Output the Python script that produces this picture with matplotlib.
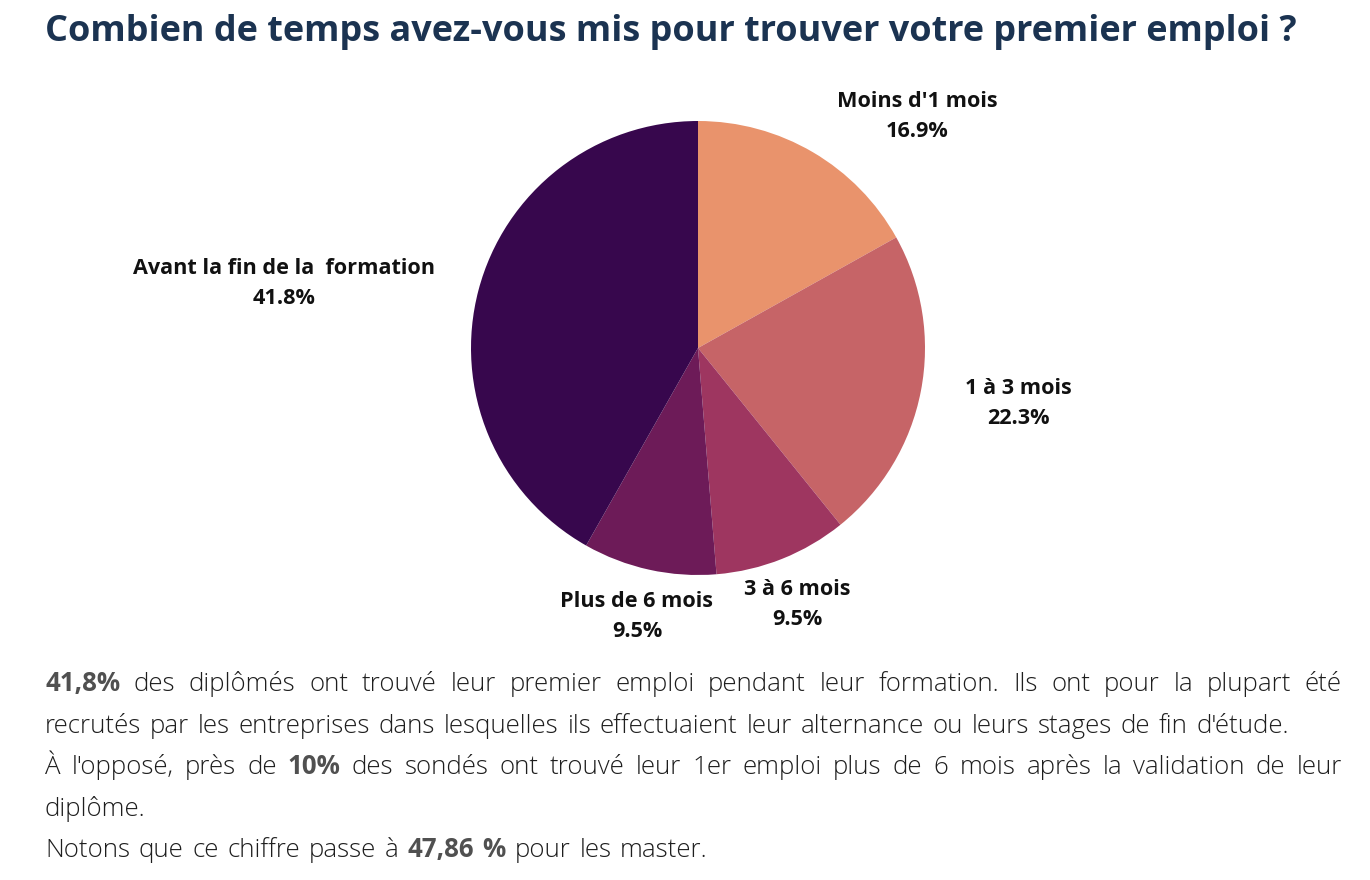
import matplotlib
matplotlib.use("Agg")
import matplotlib.pyplot as plt

W, H = 1370, 880

# ---------------- data ----------------
categories = ["Moins d'1 mois", "1 à 3 mois", "3 à 6 mois", "Plus de 6 mois",
              "Avant la fin de la  formation"]
values = [16.9, 22.3, 9.5, 9.5, 41.8]
colors = ["#E9936C", "#C66467", "#9E3660", "#6D1B58", "#37074D"]
title = "Combien de temps avez-vous mis pour trouver votre premier emploi ?"

# paragraph: list of lines, each line a list of (text, bold) runs, plus justify flag
paragraph = [
    ([("41,8%", True), (" des diplômés ont trouvé leur premier emploi pendant leur formation. Ils ont pour la plupart été", False)], True),
    ([("recrutés par les entreprises dans lesquelles ils effectuaient leur alternance ou leurs stages de fin d'étude.", False)], False),
    ([("À l'opposé, près de ", False), ("10%", True), (" des sondés ont trouvé leur 1er emploi plus de 6 mois après la validation de leur", False)], True),
    ([("diplôme.", False)], False),
    ([("Notons que ce chiffre passe à ", False), ("47,86 %", True), (" pour les master.", False)], False),
]

FONT = "Open Sans"

fig = plt.figure(figsize=(W / 100, H / 100), dpi=100)
fig.patch.set_facecolor("white")


def fx(x):
    return x / W


def fy(y):
    return 1 - y / H


# ---------------- pie ----------------
cx, cy, R = 698, 348, 227
ax = fig.add_axes([0, 0, 1, 1])
ax.pie(values, colors=colors, startangle=90, counterclock=False,
       radius=1, wedgeprops=dict(linewidth=0))
ax.set_xlim((0 - cx) / R, (W - cx) / R)
ax.set_ylim((cy - H) / R, (cy - 0) / R)
ax.set_aspect("auto")
ax.axis("off")

# label placement (pixel centres of label blocks, first-line baselines)
LBL = 15.6
label_pos = [(917, 107), (1018, 394), (797, 595), (637, 607), (284, 274)]
for cat, val, (lx, ly) in zip(categories, values, label_pos):
    fig.text(fx(lx), fy(ly), cat, ha="center", va="baseline", fontsize=LBL,
             fontweight="bold", family=FONT, color="#111111")
    fig.text(fx(lx), fy(ly + 30), f"{val:.1f}%", ha="center", va="baseline",
             fontsize=LBL, fontweight="bold", family=FONT, color="#111111")

# ---------------- title ----------------
fig.text(fx(45), fy(41), title, ha="left", va="baseline", fontsize=25.9,
         fontweight="bold", family=FONT, color="#1B3351")

# ---------------- paragraph ----------------
renderer = fig.canvas.get_renderer()
BODY_SIZE = 18.6
REG_WEIGHT = "light"
REG_COL = "#1E1E1E"
BOLD_COL = "#505050"
x0, x1 = 45, 1342
base0, lead = 691, 41.5


def width_of(s, bold):
    t = fig.text(0, 0, s, fontsize=BODY_SIZE, family=FONT,
                 fontweight="bold" if bold else REG_WEIGHT)
    w = t.get_window_extent(renderer).width
    t.remove()
    return w


space_w = width_of("a a", False) - width_of("aa", False) + 2.0

for i, (runs, justify) in enumerate(paragraph):
    words = []
    for text, bold in runs:
        for w in text.split():
            words.append((w, bold))
    widths = [width_of(w, b) for w, b in words]
    if justify and len(words) > 1:
        gap = (x1 - x0 - sum(widths)) / (len(words) - 1)
    else:
        gap = space_w
    x = x0
    yb = base0 + i * lead
    for (w, b), wd in zip(words, widths):
        fig.text(fx(x), fy(yb), w, ha="left", va="baseline", fontsize=BODY_SIZE,
                 family=FONT, fontweight="bold" if b else REG_WEIGHT,
                 color=BOLD_COL if b else REG_COL)
        x += wd + gap

fig.savefig("out.png", dpi=100, facecolor="white")
